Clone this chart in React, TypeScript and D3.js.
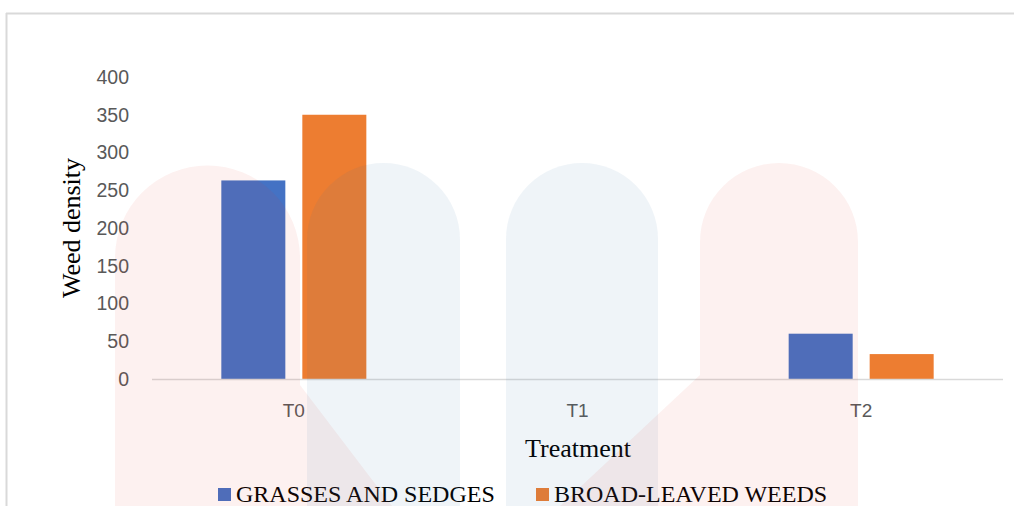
import React from "react";
import * as d3 from "d3";

const categories = ["T0", "T1", "T2"];
const seriesNames = ["GRASSES AND SEDGES", "BROAD-LEAVED WEEDS"];
const grassesValues = [263, 0, 60];
const broadLeavedValues = [350, 0, 33];
const yTicks = [0, 50, 100, 150, 200, 250, 300, 350, 400];
const colors = ["#4472c4", "#ed7d31"];

const W = 1014;
const H = 506;
const left = 152;
const right = 1003;
const top = 77;
const bottom = 379;

export default function App() {
  const x = d3.scaleBand<string>().domain(categories).range([left, right]);
  const y = d3.scaleLinear().domain([0, 400]).range([bottom, top]);
  const barW = 64;
  const gap = 17;
  const series = [grassesValues, broadLeavedValues];

  const pillar = (x0: number, x1: number, topY: number) => {
    const r = (x1 - x0) / 2;
    return `M${x0},${H} L${x0},${topY + r} A${r},${r} 0 0 1 ${x1},${topY + r} L${x1},${H} Z`;
  };

  return (
    <svg
      width={W}
      height={H}
      style={{ position: "absolute", left: 0, top: 0, background: "#fff" }}
    >
      <rect x={0} y={0} width={W} height={H} fill="#fff" />
      {/* chart border */}
      <line x1={6} y1={13.5} x2={W} y2={13.5} stroke="#d9d9d9" strokeWidth={2} />
      <line x1={6.5} y1={13} x2={6.5} y2={H} stroke="#d9d9d9" strokeWidth={2} />

      {/* y tick labels */}
      {yTicks.map((t) => (
        <text
          key={t}
          x={129}
          y={y(t)}
          dy="0.35em"
          textAnchor="end"
          fontFamily="'Liberation Sans', Arial, sans-serif"
          fontSize={19.5}
          fill="#595959"
        >
          {t}
        </text>
      ))}

      {/* bars */}
      {categories.map((c, i) => {
        const cx = (x(c) as number) + x.bandwidth() / 2;
        return series.map((vals, s) => {
          const bx = s === 0 ? cx - gap / 2 - barW : cx + gap / 2;
          const v = vals[i];
          if (v <= 0) return null;
          return (
            <rect
              key={c + s}
              x={bx}
              y={y(v)}
              width={barW}
              height={y(0) - y(v)}
              fill={colors[s]}
            />
          );
        });
      })}

      {/* axis line */}
      <line x1={left} y1={bottom + 0.5} x2={right} y2={bottom + 0.5} stroke="#d9d9d9" strokeWidth={1.5} />

      {/* category labels */}
      {categories.map((c) => (
        <text
          key={c}
          x={(x(c) as number) + x.bandwidth() / 2}
          y={417}
          textAnchor="middle"
          fontFamily="'Liberation Sans', Arial, sans-serif"
          fontSize={19}
          fill="#595959"
        >
          {c}
        </text>
      ))}

      {/* axis titles */}
      <text
        x={578}
        y={457}
        textAnchor="middle"
        fontFamily="'Liberation Serif', 'Times New Roman', serif"
        fontSize={26}
        fill="#000"
      >
        Treatment
      </text>
      <text
        transform={`translate(80,228) rotate(-90)`}
        textAnchor="middle"
        fontFamily="'Liberation Serif', 'Times New Roman', serif"
        fontSize={26}
        fill="#000"
      >
        Weed density
      </text>

      {/* legend */}
      {seriesNames.map((n, i) => {
        const lx = i === 0 ? 218 : 536;
        return (
          <g key={n}>
            <rect x={lx} y={488} width={13} height={13} fill={colors[i]} />
            <text
              x={lx + 18}
              y={502}
              fontFamily="'Liberation Serif', 'Times New Roman', serif"
              fontSize={24}
              fill="#000"
            >
              {n}
            </text>
          </g>
        );
      })}

      {/* faint watermark overlay */}
      <g style={{ pointerEvents: "none" }}>
        <path d={`M115,${H} L115,258 A92.5,92.5 0 0 1 300,258 L300,385 L392,${H} Z`} fill="#e8332a" opacity={0.07} />
        <path d={pillar(307, 460, 163)} fill="#2f6ea3" opacity={0.08} />
        <path d={pillar(506, 658, 163)} fill="#2f6ea3" opacity={0.08} />
        <path d={`M560,${H} L700,375 L700,242 A79,79 0 0 1 858,242 L858,${H} Z`} fill="#e8332a" opacity={0.07} />
      </g>
    </svg>
  );
}
